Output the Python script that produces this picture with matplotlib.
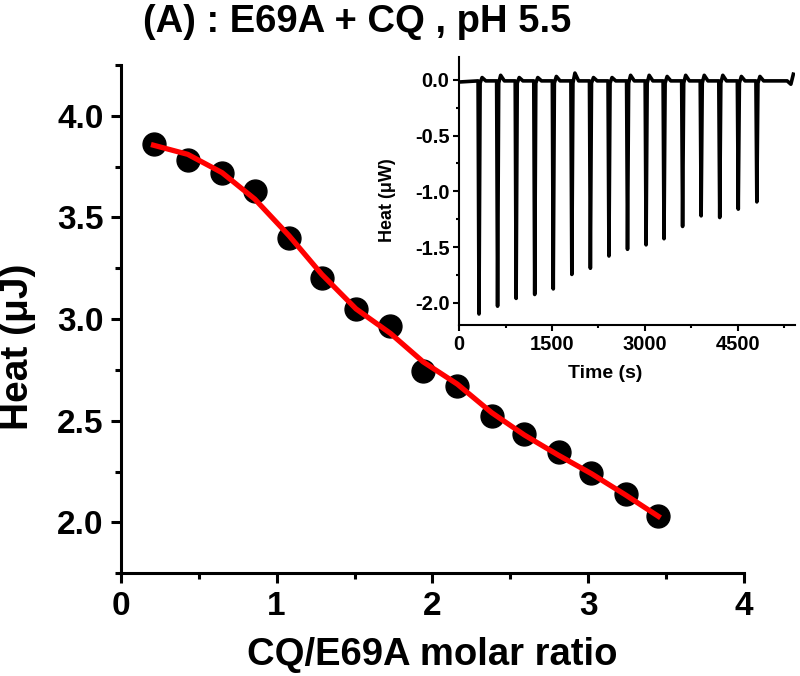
import numpy as np
import matplotlib
matplotlib.use('Agg')
import matplotlib.pyplot as plt
from matplotlib.ticker import MultipleLocator

plt.rcParams['font.family'] = ['Liberation Sans', 'DejaVu Sans']
plt.rcParams['font.weight'] = 'bold'

# integrated heats per injection
molar_ratio = [0.21, 0.43, 0.65, 0.86, 1.08, 1.29, 1.51, 1.73,
               1.94, 2.16, 2.38, 2.59, 2.81, 3.02, 3.24, 3.45]
heat_uJ = [3.86, 3.78, 3.72, 3.63, 3.40, 3.20, 3.05, 2.965,
           2.745, 2.67, 2.525, 2.435, 2.345, 2.245, 2.14, 2.03]
fit_uJ = [3.855, 3.81, 3.72, 3.59, 3.41, 3.22, 3.05, 2.93,
          2.79, 2.68, 2.54, 2.43, 2.33, 2.24, 2.135, 2.03]

# raw ITC trace: injection times, peak minima, small overshoot after each peak
inj_time = [320, 620, 920, 1220, 1520, 1820, 2120, 2420,
            2720, 3020, 3310, 3610, 3910, 4210, 4510, 4810]
inj_peak = [-2.10, -2.03, -1.96, -1.925, -1.875, -1.745, -1.69, -1.58,
            -1.52, -1.48, -1.425, -1.315, -1.22, -1.235, -1.16, -1.095]
overshoot = [0.02, 0.04, 0.02, 0.02, 0.03, 0.06, 0.02, 0.02,
             0.04, 0.04, 0.03, 0.04, 0.04, 0.04, 0.03, 0.03]
t_start, t_end = 0, 5400
base_start, base_end = -0.02, 0.05

# build the trace polyline from the injection table
t_tr = [t_start]
y_tr = [base_start]
for t, p, o in zip(inj_time, inj_peak, overshoot):
    t_tr += [t - 15, t, t + 18, t + 50, t + 110]
    y_tr += [-0.01, p, -0.03, o, -0.01]
t_tr += [5300, 5360, t_end]
y_tr += [-0.01, -0.04, base_end]

fig = plt.figure(figsize=(8.0, 6.76), dpi=100)
ax = fig.add_axes([0.151, 0.152, 0.779, 0.752])

ax.plot(molar_ratio, heat_uJ, 'o', color='black', markersize=16.5, zorder=2)
ax.plot(molar_ratio, fit_uJ, '-', color='#ff0000', lw=3.8, zorder=3)

ax.set_xlim(0, 4)
ax.set_ylim(1.75, 4.25)
ax.xaxis.set_major_locator(MultipleLocator(1))
ax.xaxis.set_minor_locator(MultipleLocator(0.5))
ax.yaxis.set_minor_locator(MultipleLocator(0.25))
ax.set_yticks([2.0, 2.5, 3.0, 3.5, 4.0])
ax.set_yticklabels(['2.0', '2.5', '3.0', '3.5', '4.0'])
for s in ['top', 'right']:
    ax.spines[s].set_visible(False)
for s in ['left', 'bottom']:
    ax.spines[s].set_linewidth(2.2)
ax.tick_params(which='major', direction='out', length=7.5, width=2.2, labelsize=24, pad=5)
ax.tick_params(which='minor', direction='out', length=4.5, width=2.2)
for lab in ax.get_xticklabels() + ax.get_yticklabels():
    lab.set_fontweight('bold')

ax.set_xlabel('CQ/E69A molar ratio', fontsize=27.5, fontweight='bold')
ax.set_ylabel('Heat (\u03bcJ)', fontsize=28, fontweight='bold')
ax.xaxis.set_label_coords(0.5, -0.161)
ax.xaxis.label.set_va('center')
ax.yaxis.set_label_coords(-0.165, 0.445)
ax.yaxis.label.set_va('center')

fig.text(0.446, 0.968, '(A) : E69A + CQ , pH 5.5', fontsize=27.5,
         fontweight='bold', ha='center', va='center')

# inset with the raw thermogram
ins = fig.add_axes([0.574, 0.519, 0.42, 0.396])
ins.plot(t_tr, y_tr, color='black', lw=2.6)
ins.set_xlim(0, 5430)
ins.set_ylim(-2.2, 0.2)
ins.xaxis.set_major_locator(MultipleLocator(1500))
ins.xaxis.set_minor_locator(MultipleLocator(750))
ins.set_yticks([-2.0, -1.5, -1.0, -0.5, 0.0])
ins.set_yticklabels(['-2.0', '-1.5', '-1.0', '-0.5', '0.0'])
ins.yaxis.set_minor_locator(MultipleLocator(0.25))
for s in ['top', 'right']:
    ins.spines[s].set_visible(False)
for s in ['left', 'bottom']:
    ins.spines[s].set_linewidth(1.5)
ins.tick_params(which='major', direction='out', length=4, width=1.5, labelsize=14.5, pad=3)
ins.tick_params(which='minor', direction='out', length=2.5, width=1.5)
for lab in ins.get_xticklabels() + ins.get_yticklabels():
    lab.set_fontweight('bold')
ins.set_xlabel('Time (s)', fontsize=14, fontweight='bold')
ins.set_ylabel('Heat (\u03bcW)', fontsize=13, fontweight='bold')
ins.xaxis.set_label_coords(0.435, -0.18)
ins.xaxis.label.set_va('center')
ins.yaxis.set_label_coords(-0.214, 0.466)
ins.yaxis.label.set_va('center')

plt.savefig('out.png', dpi=100)
